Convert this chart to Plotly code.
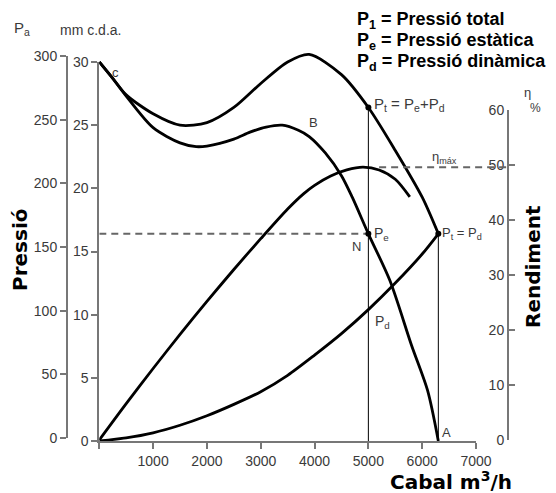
import plotly.graph_objects as go

# ---------------- data ----------------
# Total pressure Pt (mm c.d.a.) vs flow (m3/h)
Q_PT = [0, 250, 500, 1000, 1500, 2000, 2500, 3000, 3500, 3900, 4500, 5000, 5500, 6000, 6300]
PT = [30.0, 28.7, 27.4, 25.9, 25.0, 25.2, 26.4, 28.3, 30.0, 30.6, 29.0, 26.4, 23.0, 19.3, 16.4]

# Static pressure Pe (mm c.d.a.)
Q_PE = [0, 250, 500, 1000, 1500, 1800, 2000, 2500, 2800, 3100, 3400, 3700, 3900, 4200, 4500, 4700,
        5000, 5400, 5800, 6100, 6300]
PE = [30.0, 28.7, 27.3, 24.8, 23.6, 23.3, 23.35, 23.9, 24.45, 24.85, 25.0, 24.6, 24.1, 22.8, 21.0, 19.3,
      16.4, 12.7, 7.6, 4.0, 0.0]

# Dynamic pressure Pd (mm c.d.a.)
Q_PD = [0, 500, 1000, 1500, 2000, 2500, 3000, 3500, 4000, 4500, 5000, 5500, 6000, 6300]
PD = [0.0, 0.25, 0.65, 1.25, 2.0, 2.9, 3.9, 5.2, 6.8, 8.5, 10.4, 12.5, 14.8, 16.4]

# Efficiency (%)
Q_ETA = [0, 500, 1000, 1500, 2000, 2500, 3000, 3500, 3800, 4000, 4300, 4600, 4900, 5200, 5500, 5770]
ETA = [0.0, 6.6, 13.0, 19.2, 25.2, 31.0, 36.6, 42.0, 44.8, 46.3, 48.0, 49.1, 49.6, 49.1, 47.4, 44.2]

OP_Q = 5000      # operating point N
OP_PE = 16.4
OP_PT = 26.4
A_Q = 6300       # Pt = Pd point
A_PD = 16.4
ETA_MAX = 49.6
ETA_MAX_FROM = 5200

X_TICKS = [0, 1000, 2000, 3000, 4000, 5000, 6000, 7000]
X_TICK_TEXT = ["", "1000", "2000", "3000", "4000", "5000", "6000", "7000"]
MM_TICKS = [0, 5, 10, 15, 20, 25, 30]
PA_TICKS = [0, 50, 100, 150, 200, 250, 300]
ETA_TICKS = [0, 10, 20, 30, 40, 50, 60]

# ---------------- layout geometry ----------------
# page body has an 8px margin, so the figure is a bit smaller than the window
BODY = 8
WIN_W, WIN_H = 556, 493
W, H = WIN_W - BODY, WIN_H - BODY
PAPER_L, PAPER_R, PAPER_T, PAPER_B = 67, 508, 40, 441   # window pixels
ML, MR, MT, MB = PAPER_L - BODY, WIN_W - PAPER_R, PAPER_T - BODY, WIN_H - PAPER_B
PW, PH = PAPER_R - PAPER_L, PAPER_B - PAPER_T


def px(p):
    return (p - PAPER_L) / PW


def py(p):
    return (PAPER_B - p) / PH


XD = [px(99.3), px(476)]
YD_MM = [py(441), py(62)]
YD_PA = [py(438), py(56)]
YD_ETA = [py(440), py(110)]
# hidden data axis sharing the mm scale but with room above 30 mm
MM_TOP = 30 / (YD_MM[1] - YD_MM[0])

AX_COL = "#777777"
TXT_COL = "#3a3a3a"
TICK_FONT = dict(family="Liberation Sans, Arial, sans-serif", size=14, color=TXT_COL)
BIG_FONT = dict(family="DejaVu Sans, sans-serif", size=20, color="black")
LEG_FONT = dict(family="Liberation Sans, Arial, sans-serif", size=18, color="black")
LBL_FONT = dict(family="Liberation Sans, Arial, sans-serif", size=13, color=TXT_COL)

curve = dict(color="black", width=2.8, shape="spline", smoothing=0.8)

fig = go.Figure()
fig.add_trace(go.Scatter(x=Q_PT, y=PT, mode="lines", line=curve, xaxis="x", yaxis="y4"))
fig.add_trace(go.Scatter(x=Q_PE, y=PE, mode="lines", line=curve, xaxis="x", yaxis="y4"))
fig.add_trace(go.Scatter(x=Q_PD, y=PD, mode="lines", line=curve, xaxis="x", yaxis="y4"))
fig.add_trace(go.Scatter(x=Q_ETA, y=ETA, mode="lines", line=curve, xaxis="x", yaxis="y3"))
# invisible traces to carry the visible mm and Pa axes
for ya in ("y", "y2"):
    fig.add_trace(go.Scatter(x=[0], y=[0], mode="markers", marker=dict(opacity=0),
                             xaxis="x", yaxis=ya, hoverinfo="skip"))
# dashed line at static pressure of N
fig.add_trace(go.Scatter(x=[0, OP_Q], y=[OP_PE, OP_PE], mode="lines",
                         line=dict(color="#666666", width=2, dash="7px,5px"), xaxis="x", yaxis="y4"))
# vertical thin lines
fig.add_trace(go.Scatter(x=[OP_Q, OP_Q], y=[0, OP_PT], mode="lines",
                         line=dict(color="black", width=1), xaxis="x", yaxis="y4"))
fig.add_trace(go.Scatter(x=[A_Q, A_Q], y=[0, A_PD], mode="lines",
                         line=dict(color="black", width=1), xaxis="x", yaxis="y4"))
# points
fig.add_trace(go.Scatter(x=[OP_Q, OP_Q, A_Q], y=[OP_PT, OP_PE, A_PD], mode="markers",
                         marker=dict(color="black", size=6), xaxis="x", yaxis="y4"))


def x_paper(q):
    return XD[0] + q / 7000 * (XD[1] - XD[0])


shapes = [dict(type="line", xref="paper", yref="y3", x0=x_paper(ETA_MAX_FROM), x1=1.0,
               y0=ETA_MAX, y1=ETA_MAX, line=dict(color="#666666", width=2, dash="7px,5px"))]

ann = []


def A(text, x, y, xref="x", yref="y4", font=LBL_FONT, xanchor="center", yanchor="middle", **kw):
    ann.append(dict(text=text, x=x, y=y, xref=xref, yref=yref, showarrow=False, font=font,
                    xanchor=xanchor, yanchor=yanchor, **kw))


A("c", 292, 29.2)
A("B", 3975, 25.2)
A("N", 4780, 15.4)
A("P<sub>e</sub>", OP_Q, OP_PE, xanchor="left", xshift=4, font=dict(LBL_FONT, size=14))
A("P<sub>t</sub> = P<sub>e</sub>+P<sub>d</sub>", OP_Q, OP_PT, xanchor="left", xshift=4, yshift=3,
  font=dict(LBL_FONT, size=15))
A("P<sub>t</sub> = P<sub>d</sub>", A_Q, A_PD, xanchor="left", xshift=2)
A("P<sub>d</sub>", 5260, 9.4, font=dict(LBL_FONT, size=14))
A("A", 6460, 0.7)
A("η<sub>máx</sub>", 6420, 51.3, yref="y3", font=dict(LBL_FONT, size=13))

# top-left / top-right unit labels
A("P<sub>a</sub>", px(22), py(28), xref="paper", yref="paper", font=dict(LBL_FONT, size=15))
A("mm c.d.a.", px(90), py(30), xref="paper", yref="paper", font=dict(LBL_FONT, size=14))
A("η", px(527), py(92), xref="paper", yref="paper")
A("%", px(535), py(108), xref="paper", yref="paper", font=dict(LBL_FONT, size=12))

# legend text block
for i, t in enumerate(["P<sub>1</sub> = Pressió total", "P<sub>e</sub> = Pressió estàtica",
                       "P<sub>d</sub> = Pressió dinàmica"]):
    A("<b>" + t + "</b>", px(355), py(20 + 21.5 * i), xref="paper", yref="paper",
      font=LEG_FONT, xanchor="left")

# axis titles
A("<b>Pressió</b>", px(20), py(250), xref="paper", yref="paper", font=BIG_FONT, textangle=-90)
A("<b>Rendiment</b>", px(533), py(267), xref="paper", yref="paper", font=BIG_FONT, textangle=-90)
A("<b>Cabal m<sup>3</sup>/h</b>", px(451), py(481), xref="paper", yref="paper", font=BIG_FONT)

common = dict(showline=True, linecolor=AX_COL, linewidth=2, tickcolor=AX_COL, tickwidth=2,
              ticklen=6, showgrid=False, zeroline=False, tickfont=TICK_FONT)

fig.update_layout(
    width=W, height=H, autosize=False,
    margin=dict(l=ML, r=MR, t=MT, b=MB, pad=0),
    paper_bgcolor="white", plot_bgcolor="rgba(0,0,0,0)",
    showlegend=False,
    xaxis=dict(domain=XD, range=[0, 7000], anchor="y", ticks="outside",
               tickvals=X_TICKS, ticktext=X_TICK_TEXT, **common),
    yaxis=dict(domain=YD_MM, range=[0, 30], anchor="x", side="left", ticks="outside",
               tickvals=MM_TICKS, **common),
    yaxis2=dict(domain=YD_PA, range=[0, 300], anchor="free", position=0, side="left",
                ticks="outside", tickvals=PA_TICKS, **common),
    yaxis3=dict(domain=YD_ETA, range=[0, 60], anchor="free", position=1, side="left",
                ticks="inside", tickvals=ETA_TICKS, **common),
    yaxis4=dict(domain=[YD_MM[0], 1.0], range=[0, MM_TOP * (1.0 - YD_MM[0])], anchor="x",
                visible=False, showgrid=False, zeroline=False),
    shapes=shapes,
    annotations=ann,
)

fig.write_html("out.html")
